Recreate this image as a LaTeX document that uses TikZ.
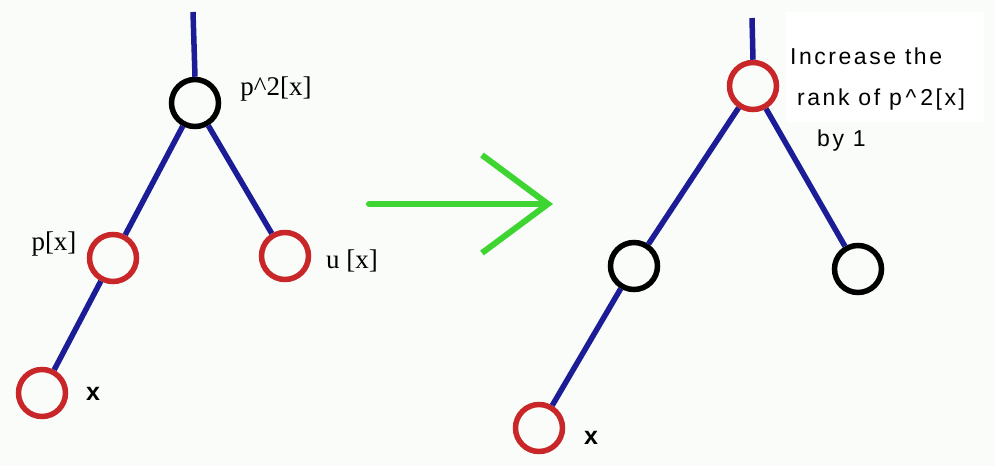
\documentclass[tikz,border=0pt]{standalone}
\usepackage{fontspec}
\setmainfont{Liberation Serif}
\setsansfont{Liberation Sans}
\usetikzlibrary{arrows.meta,positioning}
\definecolor{paper}{RGB}{249,252,249}
\definecolor{edgeblue}{RGB}{28,28,150}
\definecolor{hotred}{RGB}{200,38,40}
\definecolor{arrgreen}{RGB}{62,212,50}

\tikzset{
  vertex/.style={circle,draw,line width=5.5pt,minimum size=47pt,inner sep=0pt},
  redv/.style={vertex,draw=hotred},
  blackv/.style={vertex,draw=black},
  treeedge/.style={draw=edgeblue,line width=5.5pt},
  tag/.style={font=\fontsize{27}{30}\selectfont,inner sep=0pt},
  xtag/.style={font=\sffamily\bfseries\fontsize{25}{30}\selectfont,inner sep=0pt}
}

\begin{document}
\begin{tikzpicture}[x=1pt,y=-1pt]
  \fill[paper] (0,0) rectangle (995,466);
  \useasboundingbox (0,0) rectangle (995,466);
  \fill[white] (786,12) rectangle (984,122);

  % tree before
  \coordinate (ltop) at (193,12);
  \node[blackv] (lroot) at (195,103) {};
  \node[redv] (lpx) at (113,258) {};
  \node[redv] (lux) at (285,256) {};
  \node[redv] (lx) at (42,393) {};
  \draw[treeedge] (ltop) -- (lroot.north);
  \draw[treeedge] (lroot) -- (lpx);
  \draw[treeedge] (lroot) -- (lux);
  \draw[treeedge] (lpx) -- (lx);
  \node[tag] (lrootlbl) at (276,89) {p\textasciicircum2[x]};
  \node[tag] (lpxlbl) at (54,244) {p[x]};
  \node[tag] (luxlbl) at (352,261) {u [x]};
  \node[xtag] (lxlbl) at (93,394) {x};

  % the step
  \coordinate (gofrom) at (369,204);
  \coordinate (goto) at (553,204);
  \draw[arrgreen,line width=6pt,line cap=round,
    -{Straight Barb[length=66pt,width=98pt,line width=6pt]}] (gofrom) -- (goto);

  % tree after
  \coordinate (rtop) at (752,18);
  \node[redv] (rroot) at (753,86) {};
  \node[blackv] (rleft) at (634,266) {};
  \node[blackv] (rright) at (858,269) {};
  \node[redv] (rx) at (539,428) {};
  \draw[treeedge] (rtop) -- (rroot.north);
  \draw[treeedge] (rroot) -- (rleft);
  \draw[treeedge] (rroot) -- (rright);
  \draw[treeedge] (rleft) -- (rx);
  \node[xtag] (rxlbl) at (591,438) {x};
  \node[anchor=north west,align=left,inner sep=0pt,
    font=\sffamily\addfontfeatures{LetterSpace=11}\fontsize{23}{41}\selectfont]
    (note) at (790,48) {Increase the\\
    \hspace*{7pt}rank of p\,\textasciicircum\,2[x]\\
    \hspace*{27pt}by 1};
\end{tikzpicture}
\end{document}
